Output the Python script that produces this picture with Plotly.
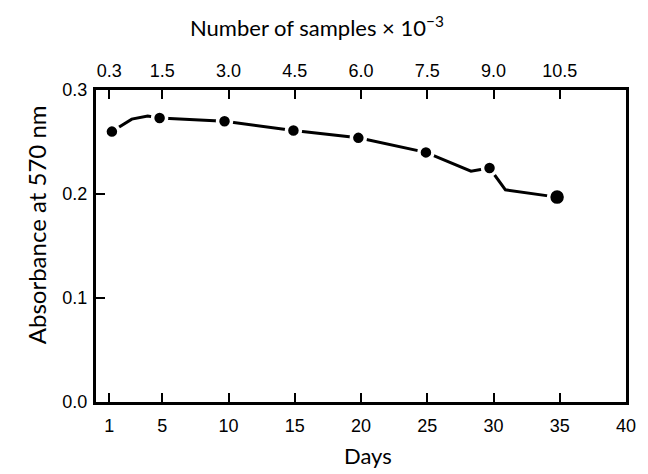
import plotly.graph_objects as go

# absorbance readings (days vs absorbance at 570 nm)
days = [1.2, 2.7, 3.9, 4.8, 9.7, 14.9, 19.8, 24.9, 28.3, 29.7, 30.9, 34.8]
absorbance = [0.260, 0.272, 0.275, 0.273, 0.270, 0.261, 0.254, 0.240, 0.222, 0.225, 0.204, 0.197]
# which vertices carry a dot
marker_days = [1.2, 4.8, 9.7, 14.9, 19.8, 24.9, 29.7, 34.8]
marker_abs = [0.260, 0.273, 0.270, 0.261, 0.254, 0.240, 0.225, 0.197]
marker_sizes = [14, 14, 14, 14, 14, 14, 14, 17]

day_ticks = [1, 5, 10, 15, 20, 25, 30, 35, 40]
sample_ticks = [0.3, 1.5, 3.0, 4.5, 6.0, 7.5, 9.0, 10.5]
sample_labels = ["0.3", "1.5", "3.0", "4.5", "6.0", "7.5", "9.0", "10.5"]
abs_ticks = [0.0, 0.1, 0.2, 0.3]

tickfont = dict(family="Liberation Sans", size=18, color="black")
titlefont = dict(family="Lato", size=22, color="black")

fig = go.Figure()
fig.add_trace(go.Scatter(x=days, y=absorbance, mode="lines",
                         line=dict(color="black", width=3), hoverinfo="skip"))
fig.add_trace(go.Scatter(x=marker_days, y=marker_abs, mode="markers",
                         marker=dict(color="black", size=marker_sizes, opacity=1,
                                     line=dict(color="white", width=3.5))))
# invisible trace to activate the top axis
fig.add_trace(go.Scatter(x=[0.3], y=[None], xaxis="x2", mode="markers",
                         showlegend=False, hoverinfo="skip"))

# page body has an 8px margin, so the figure is 8px smaller than the window
fig.update_layout(
    width=640, height=466,
    margin=dict(l=88, r=12, t=82, b=72),
    plot_bgcolor="white", paper_bgcolor="white",
    showlegend=False,
    xaxis=dict(range=[0, 40], tickvals=day_ticks, ticks="inside", ticklen=9,
               tickwidth=2, tickcolor="black", showline=True, linewidth=3,
               linecolor="black", mirror=True, showgrid=False, zeroline=False,
               tickfont=tickfont, ticklabelstandoff=5),
    xaxis2=dict(range=[0, 12], overlaying="x", side="top", tickvals=sample_ticks,
                ticktext=sample_labels, ticks="inside", ticklen=9, tickwidth=2,
                tickcolor="black", showline=False, showgrid=False, zeroline=False,
                tickfont=tickfont, ticklabelstandoff=8),
    yaxis=dict(range=[0, 0.3], tickvals=abs_ticks, tickformat=".1f", ticks="inside",
               ticklen=9, tickwidth=2, tickcolor="black", showline=True, linewidth=3,
               linecolor="black", mirror=True, showgrid=False, zeroline=False,
               tickfont=tickfont, ticklabelstandoff=2),
    annotations=[
        dict(text="Number of samples × 10<sup>−3</sup>", xref="paper", yref="paper",
             x=0.417, y=1.205, xanchor="center", yanchor="middle", showarrow=False,
             font=titlefont),
        dict(text="Days", xref="paper", yref="paper", x=0.514, y=-0.17,
             xanchor="center", yanchor="middle", showarrow=False, font=titlefont),
        dict(text="Absorbance at 570 nm", xref="paper", yref="paper", x=-0.113, y=0.567,
             xanchor="center", yanchor="middle", textangle=-90, showarrow=False,
             font=dict(family="Lato", size=24, color="black")),
    ],
)

fig.write_html("out.html")
